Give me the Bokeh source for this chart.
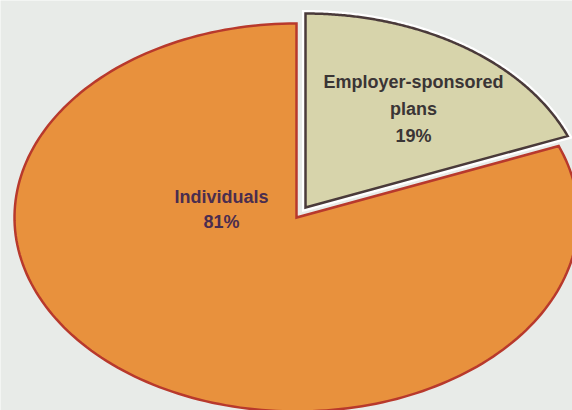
import numpy as np
from bokeh.plotting import figure
from bokeh.models import Range1d
from bokeh.embed import file_html
from bokeh.resources import INLINE
from bokeh.core.properties import value

# ---- data ----
categories = ["Individuals", "Employer-sponsored plans"]
label_lines = [["Individuals"], ["Employer-sponsored", "plans"]]
shares = [81, 19]
exploded = [False, True]

# ---- style / layout ----
BG = "#e8ebe8"
FILLS = ["#e8913d", "#d7d4ab"]
EDGES = ["#b8392c", "#4a3a3a"]
TEXT_COLORS = ["#4a2d4f", "#3a3535"]
LABEL_POS = [(221, 209), (413, 108)]
LINE_HEIGHTS = [1.25, 1.35]
W, H = 572, 410
CX, CY = 296, 217
RX, RY = 282, 194
EXPLODE = (9, -10)

p = figure(width=W, height=H, x_range=Range1d(0, 572), y_range=Range1d(410, 0),
           output_backend="svg", toolbar_location=None, min_border=0,
           x_axis_location=None, y_axis_location=None)
p.grid.visible = False
p.outline_line_color = None
p.background_fill_color = BG
p.border_fill_color = BG

total = float(sum(shares))
start = np.pi / 2
for i, s in enumerate(shares):
    span = 2 * np.pi * s / total
    t = np.linspace(start, start + span, 200)
    dx, dy = EXPLODE if exploded[i] else (0, 0)
    xs = [CX + dx] + list(CX + dx + RX * np.cos(t)) + [CX + dx]
    ys = [CY + dy] + list(CY + dy - RY * np.sin(t)) + [CY + dy]
    if exploded[i]:
        p.patch(xs, ys, fill_color=None, line_color="white", line_width=7, line_join="miter")
    p.patch(xs, ys, fill_color=FILLS[i], line_color=EDGES[i], line_width=2.5, line_join="miter")
    start += span

for i in range(len(shares)):
    txt = "\n".join(label_lines[i] + [f"{shares[i]}%"])
    p.text(x=[LABEL_POS[i][0]], y=[LABEL_POS[i][1]], text=[txt],
           text_align="center", text_baseline="middle",
           text_font=value("Liberation Sans"), text_font_style="bold",
           text_font_size="18px", text_color=TEXT_COLORS[i],
           text_line_height=LINE_HEIGHTS[i])

open("out.html", "w").write(file_html(p, INLINE))
